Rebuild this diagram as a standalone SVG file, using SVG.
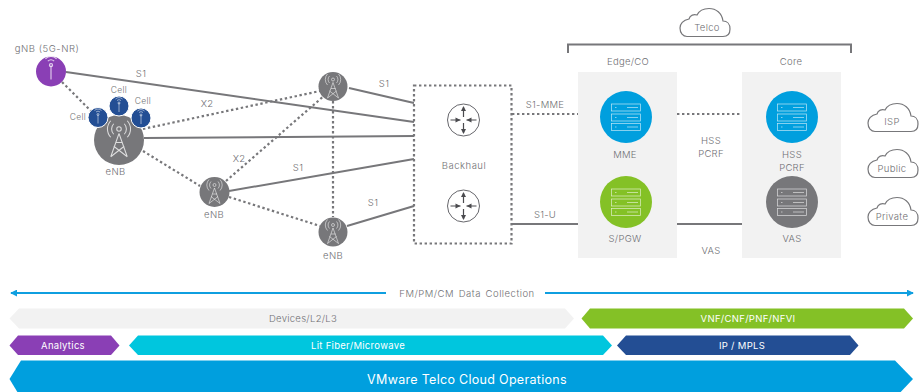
<svg xmlns="http://www.w3.org/2000/svg" width="920" height="392" viewBox="0 0 920 392">
<style>
text{font-family:Inter,"Open Sans","Liberation Sans",sans-serif;font-size:9.5px;font-weight:300;fill:#6f6f73;text-anchor:middle;letter-spacing:.3px}
.w{fill:#fff;font-weight:400}
.sm{font-size:8.500px}
.s{fill:none;stroke:#77777a;stroke-width:2}
.d{fill:none;stroke:#77777a;stroke-width:2.200;stroke-dasharray:2.400 2.600}
.i{fill:none;stroke:#fff;stroke-width:.7;opacity:.75}
.c{fill:#fff;stroke:#77777a;stroke-width:1.200}
.r{fill:none;stroke:#55555a;stroke-width:.9}
.a{fill:none;stroke:#4a4a4e;stroke-width:1.200}
.p{fill:#4a4a4e}
.pan{fill:#f2f2f2}
.blue{stroke:#0f9fe0;stroke-width:2;fill:none}
</style>
<defs>
<path id="cloud" d="M8,28.500H44C49,28.500 51,25 51,21C51,16 48,13 44,13C43,5 37,.5 30,.5C24,.5 20,3 18,7C15,6 11,7 10,11C4,12 1,16 1,20C1,25 4,28.500 8,28.500Z"/>
<g id="server">
<rect class="i" x="-14.500" y="-14.500" width="29" height="7"/><rect class="i" x="-14.500" y="-4.500" width="29" height="7"/><rect class="i" x="-14.500" y="5" width="29" height="7"/>
<path class="i" d="M-11-11h1.500M-11-1h1.500M-11 8.500h1.500M1-11h11M1-1h11M1 8.500h11" stroke-width="1.800"/>
</g>
<g id="tower">
<circle class="i" cx="0" cy="-8" r="1.500"/>
<path class="i" d="M-3.500-11.500A5 5 0 0 0-3.500-4.500M3.500-11.500A5 5 0 0 1 3.500-4.500M-5.500-13.500A8 8 0 0 0-5.500-2.500M5.500-13.500A8 8 0 0 1 5.500-2.500M0-5L-5.500 10.500M0-5L5.500 10.500M-5.500 10.500L3.500 3.500M5.500 10.500L-3.500 3.500M-2 1L2.500 1"/>
</g>
<g id="cellant">
<path class="i" d="M0-3V6M-2-5.500A3 3 0 0 1 2-5.500M-3.500-7A5 5 0 0 1 3.500-7"/><circle class="i" cx="0" cy="-3" r="1"/>
</g>
<g id="router">
<circle class="r" r="16"/>
<path class="a" d="M0-13V-3M0 13V3M-13 0H-3M13 0H3"/>
<path class="p" d="M0-14L-2.500-9H2.500ZM0 14L-2.500 9H2.500ZM-3 0L-8-2.500V2.500ZM3 0L8-2.500V2.500Z"/>
</g>
<marker id="ah" viewBox="0 0 8 8" refX="7" refY="4" markerWidth="3.500" markerHeight="3.500" orient="auto-start-reverse"><path d="M0 0L8 4L0 8Z" fill="#0f9fe0"/></marker>
</defs>

<rect class="pan" x="578" y="72" width="99" height="186"/>
<rect class="pan" x="742" y="72" width="99" height="186"/>

<g id="connectors">
<path class="s" d="M66 72L414 122M144 138L414 136M229 191L414 159M349 88L414 103M347 226L414 206M512 224H578M677 224H742"/>
<path class="d" d="M62 82L92 112M143 129L320 91M143 151L200 186M226 181L325 95M333 101V217M229 197L320 226M512 114H578M677 114H742"/>
<path d="M568 53V44.500H851V53" fill="none" stroke="#77777a" stroke-width="2"/>
<path class="blue" d="M386 293H11" marker-end="url(#ah)"/>
<path class="blue" d="M545 293H913" marker-end="url(#ah)"/>
</g>

<g id="gnb"><circle cx="51" cy="71.500" r="15" fill="#8a3fb5"/><use href="#cellant" transform="translate(51 70) scale(1.600)"/><text x="47" y="52" style="letter-spacing:.55px">gNB (5G-NR)</text></g>
<g id="enb-main"><circle cx="119" cy="140" r="25" fill="#77777a"/><use href="#tower" transform="translate(119 141) scale(1.500)"/><text x="115.500" y="175">eNB</text></g>
<g id="cell-left"><circle cx="98" cy="117.500" r="10" fill="#234e94" stroke="#fff"/><use href="#cellant" transform="translate(98 117.500)"/><text class="sm" x="78" y="119.500">Cell</text></g>
<g id="cell-top"><circle cx="119" cy="106" r="10" fill="#234e94" stroke="#fff"/><use href="#cellant" transform="translate(119 106)"/><text class="sm" x="119" y="93">Cell</text></g>
<g id="cell-right"><circle cx="141" cy="118" r="10" fill="#234e94" stroke="#fff"/><use href="#cellant" transform="translate(141 118)"/><text class="sm" x="143" y="103.500">Cell</text></g>
<g id="enb-2"><circle cx="214.500" cy="192" r="15" fill="#77777a"/><use href="#tower" transform="translate(214.500 193)"/><text x="214" y="218">eNB</text></g>
<g id="enb-3"><circle cx="333" cy="86.500" r="14.500" fill="#77777a"/><use href="#tower" transform="translate(333 87.500)"/></g>
<g id="enb-4"><circle cx="333" cy="232" r="14.500" fill="#77777a"/><use href="#tower" transform="translate(333 233)"/><text x="333" y="258.500">eNB</text></g>

<g id="backhaul">
<rect x="414" y="85.500" width="97.500" height="158" fill="#fff" stroke="#77777a" stroke-width="2.200" stroke-dasharray="2.400 2.600"/>
<use href="#router" transform="translate(463.500 120)"/><use href="#router" transform="translate(463.500 206)"/>
<text x="464" y="168.500" style="letter-spacing:.5px">Backhaul</text>
</g>

<g id="mme"><circle cx="626" cy="117" r="26" fill="#009fde"/><use href="#server" transform="translate(626 118.500)"/><text x="625" y="157.500">MME</text></g>
<g id="spgw"><circle cx="626" cy="202" r="26" fill="#84c126"/><use href="#server" transform="translate(626 203.500)"/><text x="625" y="242">S/PGW</text></g>
<g id="hss"><circle cx="792" cy="117" r="26" fill="#009fde"/><use href="#server" transform="translate(792 118.500)"/><text x="792" y="157.500">HSS</text><text x="792" y="170.500">PCRF</text></g>
<g id="vas"><circle cx="792" cy="202" r="26" fill="#77777a"/><use href="#server" transform="translate(792 203.500)"/><text x="792" y="242">VAS</text></g>

<g id="telco"><use href="#cloud" class="c" transform="translate(679 8)"/><text x="707" y="31">Telco</text></g>
<g id="isp"><use href="#cloud" class="c" transform="translate(867 103)"/><text x="892" y="125">ISP</text></g>
<g id="public"><use href="#cloud" class="c" transform="translate(867 149)"/><text x="892" y="172">Public</text></g>
<g id="private"><use href="#cloud" class="c" transform="translate(867 197)"/><text x="892" y="220">Private</text></g>

<g id="labels">
<text x="141" y="77">S1</text><text x="207" y="107">X2</text><text x="239" y="162">X2</text>
<text x="384" y="87">S1</text><text x="298" y="171">S1</text><text x="373" y="206">S1</text>
<text x="545" y="108">S1-MME</text><text x="545" y="218">S1-U</text>
<text x="628" y="65">Edge/CO</text><text x="791" y="65">Core</text>
<text x="711" y="144">HSS</text><text x="711" y="156.500">PCRF</text><text x="711" y="254">VAS</text>
<text x="467" y="296.500" style="letter-spacing:.5px;word-spacing:1.500px">FM/PM/CM Data Collection</text>
</g>

<g id="band-devices"><path d="M9.500 318.500L19 308.500H565L574 318.500L565 328.500H19Z" fill="#f2f2f2"/><text x="303" y="322">Devices/L2/L3</text></g>
<g id="band-vnf"><path d="M581.500 318.500L590 308.500H904L913 318.500L904 328.500H590Z" fill="#84c126"/><text class="w" x="748" y="322">VNF/CNF/PNF/NFVI</text></g>
<g id="band-analytics"><path d="M9.500 345.500L18 335.500H111L119.500 345.500L111 355H18Z" fill="#8a3fb5"/><text class="w" x="63" y="349">Analytics</text></g>
<g id="band-fiber"><path d="M129 345.500L138 335.500H603L612 345.500L603 355H138Z" fill="#00c6de"/><text class="w" x="358" y="349">Lit Fiber/Microwave</text></g>
<g id="band-ip"><path d="M617 345.500L626 335.500H850L858.500 345.500L850 355H626Z" fill="#234e94"/><text class="w" x="742" y="349">IP / MPLS</text></g>
<g id="band-ops"><path d="M9.500 379L21 360.500H895L913 379L895 398H21Z" fill="#009fde"/><text class="w" x="467" y="383.500" style="font-size:12.500px">VMware Telco Cloud Operations</text></g>
</svg>
